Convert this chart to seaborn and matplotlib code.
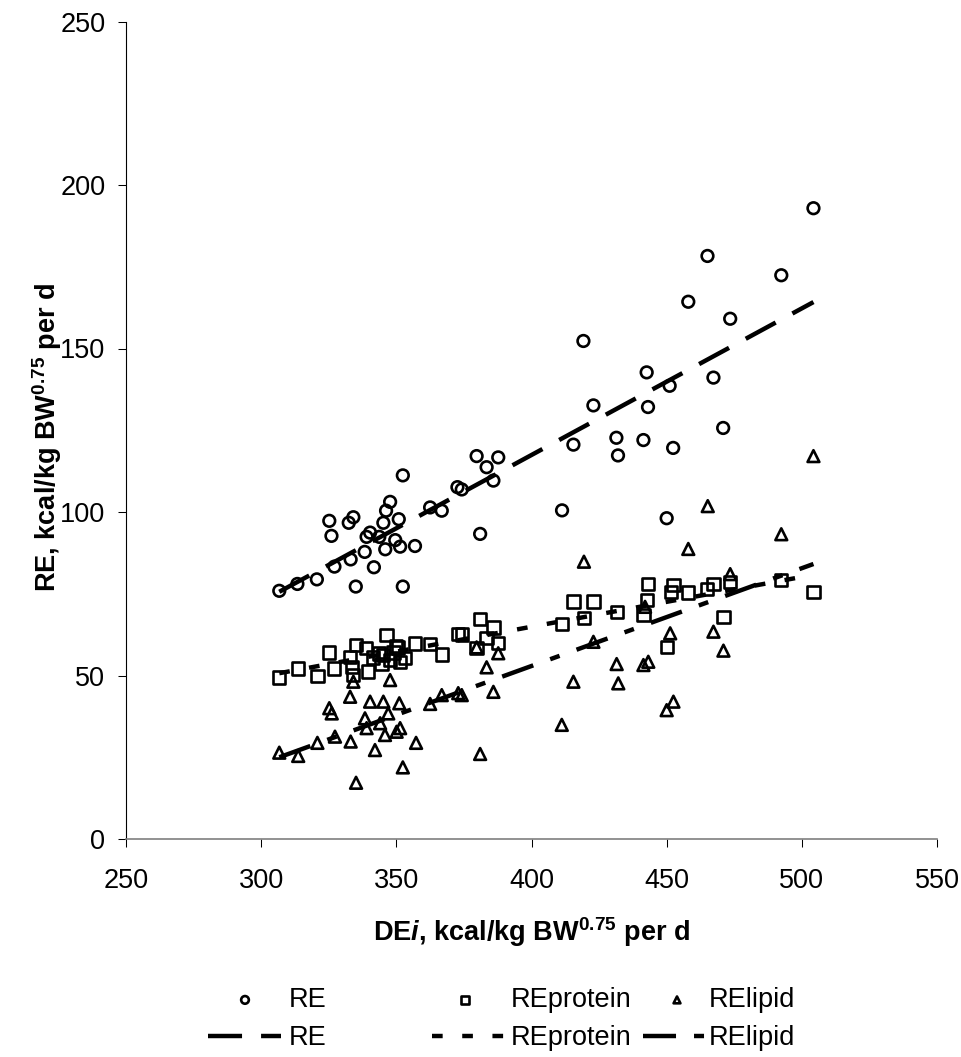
import matplotlib
matplotlib.use("Agg")
import matplotlib.pyplot as plt
import seaborn as sns

# ---------------- data ----------------
series_names = ["RE", "REprotein", "RElipid"]

re_x = [306.7, 313.4, 320.6, 325.2, 326.0, 327.1, 332.4, 334.1, 333.1, 335.0,
        338.3, 339.0, 340.3, 341.7, 343.7, 345.2, 346.2, 347.7, 345.9, 350.9,
        349.6, 351.4, 352.4, 352.4, 356.9, 362.5, 366.8, 372.6, 374.2, 379.7,
        381.0, 383.4, 385.9, 387.7, 411.3, 415.5, 419.2, 422.9, 431.4, 432.0,
        441.4, 442.6, 443.1, 450.0, 451.1, 452.4, 458.0, 465.1, 467.3, 470.9,
        473.5, 492.4, 504.3]
re_y = [75.9, 78.0, 79.4, 97.3, 92.7, 83.3, 96.7, 98.4, 85.5, 77.2,
        87.8, 92.4, 93.7, 83.1, 92.4, 96.7, 100.4, 103.1, 88.6, 97.8,
        91.4, 89.4, 77.2, 111.2, 89.6, 101.4, 100.4, 107.6, 106.9, 117.1,
        93.3, 113.7, 109.6, 116.7, 100.5, 120.6, 152.3, 132.6, 122.7, 117.3,
        122.0, 142.7, 132.1, 98.1, 138.6, 119.6, 164.3, 178.3, 141.1, 125.7,
        159.1, 172.4, 192.9]

pro_x = [306.7, 313.6, 320.8, 325.2, 327.0, 335.1, 332.9, 333.6, 334.1, 338.8,
         339.6, 346.4, 349.9, 356.9, 362.5, 366.8, 372.9, 374.2, 381.0, 385.9,
         383.4, 379.7, 387.7, 411.2, 415.5, 422.9, 419.4, 431.5, 443.2, 442.6,
         441.4, 452.5, 451.5, 458.0, 464.8, 467.3, 473.5, 471.0, 450.0, 492.2,
         504.3, 341.5, 343.5, 345.2, 347.7, 349.0, 350.7, 351.4, 353.2, 344.5]
pro_y = [49.4, 52.1, 49.8, 57.0, 52.1, 59.3, 55.7, 52.7, 50.2, 58.3,
         51.2, 62.4, 59.0, 59.8, 59.6, 56.4, 62.7, 62.5, 67.2, 64.7,
         61.4, 58.3, 60.0, 65.7, 72.6, 72.6, 67.5, 69.5, 78.0, 73.1,
         68.5, 77.7, 75.6, 75.4, 76.4, 78.0, 78.7, 67.8, 58.8, 79.2,
         75.6, 55.5, 56.7, 56.3, 54.7, 57.0, 58.6, 54.2, 55.3, 53.5]

lip_x = [306.7, 313.7, 320.8, 325.2, 326.1, 327.3, 334.1, 332.9, 333.1, 335.1,
         340.3, 338.4, 339.0, 342.1, 345.2, 347.7, 347.0, 345.8, 344.0, 351.1,
         350.1, 351.4, 352.4, 357.3, 362.5, 366.8, 372.9, 374.2, 379.7, 383.4,
         387.7, 385.9, 381.0, 504.3, 465.2, 492.4, 419.4, 458.0, 473.5, 442.0,
         451.3, 467.3, 422.9, 471.0, 431.5, 441.4, 443.2, 415.5, 432.1, 452.5,
         450.0, 411.2]
lip_y = [26.4, 25.4, 29.4, 40.0, 38.4, 31.3, 48.1, 43.5, 29.8, 17.2,
         42.0, 36.9, 33.9, 27.2, 42.0, 48.6, 38.4, 31.8, 35.4, 41.5,
         32.8, 33.9, 21.9, 29.4, 41.3, 44.0, 44.6, 44.0, 58.6, 52.5,
         56.8, 45.0, 26.0, 117.1, 101.8, 93.2, 84.8, 88.7, 81.0, 71.0,
         62.9, 63.4, 60.3, 57.6, 53.5, 53.2, 54.2, 48.1, 47.6, 42.0,
         39.4, 34.9]

# linear trend lines (end points)
fit_x = [306.7, 504.3]
re_fit = [75.6, 164.2]
pro_fit = [50.7, 80.8]
lip_fit = [25.0, 84.1]

x_ticks = [250, 300, 350, 400, 450, 500, 550]
y_ticks = [0, 50, 100, 150, 200, 250]

# ---------------- style ----------------
sns.set_theme(style="ticks")
plt.rcParams["font.family"] = ["Liberation Sans", "DejaVu Sans"]
plt.rcParams.update({
    "mathtext.fontset": "custom",
    "mathtext.rm": "Liberation Sans",
    "mathtext.bf": "Liberation Sans:bold",
    "mathtext.it": "Liberation Sans:italic:bold",
    "text.color": "black",
    "axes.labelcolor": "black",
    "xtick.color": "black",
    "ytick.color": "black",
})

W, H = 962, 1057
fig = plt.figure(figsize=(W / 100, H / 100), dpi=100)
ax = fig.add_axes([126 / W, 1 - 839 / H, 811 / W, (839 - 21.5) / H])

LW_MK = 1.9
sns.scatterplot(x=re_x, y=re_y, marker="o", s=70, facecolor="none",
                edgecolor="black", linewidth=LW_MK, ax=ax, label=series_names[0],
                legend=False, zorder=3)
sns.scatterplot(x=pro_x, y=pro_y, marker="s", s=78, facecolor="none",
                edgecolor="black", linewidth=LW_MK, ax=ax, label=series_names[1],
                legend=False, zorder=3)
sns.scatterplot(x=lip_x, y=lip_y, marker="^", s=72, facecolor="none",
                edgecolor="black", linewidth=LW_MK, ax=ax, label=series_names[2],
                legend=False, zorder=3)

LW = 3.2
sns.lineplot(x=fit_x, y=re_fit, color="black", linewidth=LW,
             linestyle=(0, (7.66, 4.28)), ax=ax, label=series_names[0],
             legend=False, zorder=4)
sns.lineplot(x=fit_x, y=pro_fit, color="black", linewidth=LW,
             linestyle=(0, (2.4, 4.4)), ax=ax, label=series_names[1],
             legend=False, zorder=4)
sns.lineplot(x=fit_x, y=lip_fit, color="black", linewidth=LW,
             linestyle=(0, (7.43, 4.05, 2.25, 4.05)), ax=ax, label=series_names[2],
             legend=False, zorder=4)

ax.set_xlim(250, 550)
ax.set_ylim(0, 250)
ax.set_xticks(x_ticks)
ax.set_yticks(y_ticks)
ax.set_xticklabels([str(v) for v in x_ticks])
ax.set_yticklabels([str(v) for v in y_ticks])

for side in ("top", "right"):
    ax.spines[side].set_visible(False)
ax.spines["left"].set_color("black")
ax.spines["left"].set_linewidth(0.8)
ax.spines["bottom"].set_color("#7f7f7f")
ax.spines["bottom"].set_linewidth(1.2)

ax.tick_params(axis="both", direction="out", length=5.8, width=0.75,
               color="black", labelsize=19.5, bottom=True, left=True)
ax.tick_params(axis="x", pad=15.0)
ax.tick_params(axis="y", pad=9.0)

ax.set_xlabel(r"DE$\mathit{i}$, kcal/kg BW$^{\mathbf{0.75}}$ per d",
              fontsize=19.5, fontweight="bold")
ax.set_ylabel(r"RE, kcal/kg BW$^{\mathbf{0.75}}$ per d",
              fontsize=19.5, fontweight="bold")
ax.xaxis.set_label_coords(0.5, (839 - 932) / 817.5)
ax.xaxis.label.set_va("center")
ax.yaxis.set_label_coords((47 - 126) / 811, (839 - 437) / 817.5)
ax.yaxis.label.set_va("center")

# ---------------- legend (Excel-like grid, one entry per legend) ----------------
FS = 19.5
fs_px = FS * 100 / 72
mk_handles = ax.collections[:3]
ln_handles = ax.lines[:3]

def add_entry(handle, label, left_px, y_px, hl, pad, ms=1.0):
    fig.legend([handle], [label], loc="center left",
               bbox_to_anchor=(left_px / W, 1 - y_px / H),
               bbox_transform=fig.transFigure, frameon=False, borderpad=0,
               borderaxespad=0, handlelength=hl, handletextpad=pad,
               fontsize=FS, markerscale=ms, handleheight=0.7)

# row 1: markers (center x, text start x, marker scale)
row1 = [(245, 291, 0.66), (465, 513, 0.7), (677, 711, 0.58)]
for h, name, (cx, tx, ms) in zip(mk_handles, series_names, row1):
    hl = 0.8
    left = cx - hl * fs_px / 2
    pad = (tx - 2 - (cx + hl * fs_px / 2)) / fs_px
    add_entry(h, name, left, 1000, hl, pad, ms)

# row 2: lines (handle start, handle end, text start)
row2 = [(208, 281, 291), (432, 504, 513), (643, 709, 711)]
for h, name, (hs, he, tx) in zip(ln_handles, series_names, row2):
    hl = (he - hs) / fs_px
    pad = max(tx - 2 - he, 0) / fs_px
    add_entry(h, name, hs, 1038, hl, pad)

fig.savefig("out.png", dpi=100)
